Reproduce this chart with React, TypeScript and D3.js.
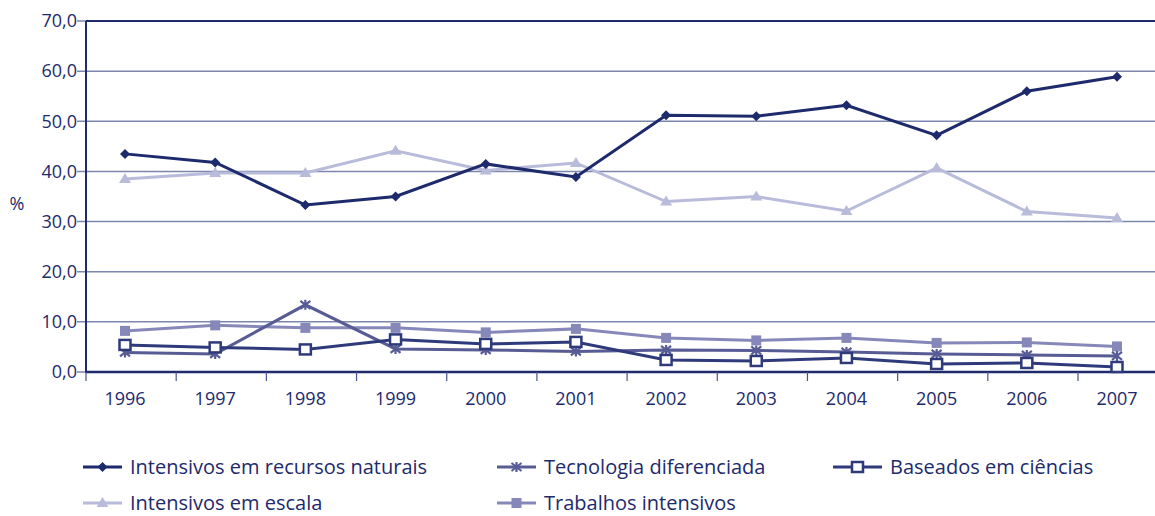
import React, { useEffect, useRef } from 'react';
import * as d3 from 'd3';

const years = ['1996', '1997', '1998', '1999', '2000', '2001', '2002', '2003', '2004', '2005', '2006', '2007'];
const yTicks = [0, 10, 20, 30, 40, 50, 60, 70];

const recursosNaturais = [43.5, 41.8, 33.3, 35.0, 41.5, 38.9, 51.2, 51.0, 53.2, 47.2, 56.0, 58.9];
const escala = [38.5, 39.7, 39.7, 44.1, 40.2, 41.7, 34.0, 35.0, 32.1, 40.7, 32.0, 30.7];
const tecnologia = [3.9, 3.6, 13.4, 4.6, 4.4, 4.1, 4.4, 4.3, 4.0, 3.6, 3.4, 3.2];
const ciencias = [5.4, 4.9, 4.5, 6.5, 5.6, 6.0, 2.4, 2.2, 2.8, 1.6, 1.8, 1.0];
const trabalhos = [8.2, 9.3, 8.8, 8.8, 7.9, 8.6, 6.8, 6.3, 6.8, 5.8, 5.9, 5.1];

const NAVY = '#1d2a6c';

type Series = { name: string; values: number[]; color: string; marker: string };

const series: Series[] = [
  { name: 'Intensivos em escala', values: escala, color: '#b8bcda', marker: 'triangle' },
  { name: 'Trabalhos intensivos', values: trabalhos, color: '#8688b9', marker: 'square' },
  { name: 'Tecnologia diferenciada', values: tecnologia, color: '#585c95', marker: 'cross' },
  { name: 'Baseados em ciências', values: ciencias, color: '#2f3a7b', marker: 'hollow' },
  { name: 'Intensivos em recursos naturais', values: recursosNaturais, color: NAVY, marker: 'diamond' },
];

const legendOrder = [
  { s: 4, col: 0, row: 0 },
  { s: 2, col: 1, row: 0 },
  { s: 3, col: 2, row: 0 },
  { s: 0, col: 0, row: 1 },
  { s: 1, col: 1, row: 1 },
];

const App: React.FC = () => {
  const svgRef = useRef<SVGSVGElement>(null);

  useEffect(() => {
    if (!svgRef.current) return;
    const width = 1155;
    const height = 516;
    const margin = { top: 21, left: 86, bottom: 144 };

    const svg = d3.select(svgRef.current);
    svg.selectAll('*').remove();

    const y = d3.scaleLinear().domain([0, 70]).range([height - margin.bottom, margin.top]);
    const x = d3.scalePoint<string>().domain(years).range([125, 1117]);
    const bandW = x.step();

    // gridlines
    svg.append('g')
      .selectAll('line')
      .data(yTicks.filter(t => t > 0 && t < 70))
      .enter().append('line')
      .attr('x1', margin.left - 9).attr('x2', width)
      .attr('y1', d => y(d)).attr('y2', d => y(d))
      .attr('stroke', '#7d87ad').attr('stroke-width', 1.5);

    // y tick marks for 0 and 70
    svg.append('g')
      .selectAll('line')
      .data([0, 70])
      .enter().append('line')
      .attr('x1', margin.left - 9).attr('x2', margin.left)
      .attr('y1', d => y(d)).attr('y2', d => y(d))
      .attr('stroke', '#7d87ad').attr('stroke-width', 1.5);

    // frame
    svg.append('line').attr('x1', margin.left).attr('x2', width)
      .attr('y1', y(70)).attr('y2', y(70)).attr('stroke', NAVY).attr('stroke-width', 2);
    svg.append('line').attr('x1', margin.left).attr('x2', width)
      .attr('y1', y(0)).attr('y2', y(0)).attr('stroke', NAVY).attr('stroke-width', 2.5);
    svg.append('line').attr('x1', margin.left).attr('x2', margin.left)
      .attr('y1', y(70)).attr('y2', y(0) + 1).attr('stroke', NAVY).attr('stroke-width', 2);

    // x ticks (band boundaries)
    svg.append('g')
      .selectAll('line')
      .data(years)
      .enter().append('line')
      .attr('x1', d => (x(d) as number) - 39).attr('x2', d => (x(d) as number) - 39)
      .attr('y1', y(0)).attr('y2', y(0) + 9)
      .attr('stroke', '#4a5590').attr('stroke-width', 1.2);
    svg.append('line')
      .attr('x1', (x('2007') as number) + bandW - 39).attr('x2', (x('2007') as number) + bandW - 39)
      .attr('y1', y(0)).attr('y2', y(0) + 9)
      .attr('stroke', '#4a5590').attr('stroke-width', 1.2);

    const font = '"Open Sans", "Noto Sans", sans-serif';

    // y labels
    svg.append('g')
      .selectAll('text')
      .data(yTicks)
      .enter().append('text')
      .attr('x', 77).attr('y', d => y(d))
      .attr('dy', '0.35em')
      .attr('text-anchor', 'end')
      .style('font-family', font).style('font-size', '18px').style('fill', NAVY)
      .text(d => d3.format('.1f')(d).replace('.', ','));

    svg.append('text')
      .attr('x', 17).attr('y', 204).attr('dy', '0.35em').attr('text-anchor', 'middle')
      .style('font-family', font).style('font-size', '18px').style('fill', NAVY)
      .text('%');

    // x labels
    svg.append('g')
      .selectAll('text')
      .data(years)
      .enter().append('text')
      .attr('x', d => x(d) as number).attr('y', y(0) + 33)
      .attr('text-anchor', 'middle')
      .style('font-family', font).style('font-size', '18px').style('fill', NAVY)
      .text(d => d);

    const drawMarker = (g: d3.Selection<SVGGElement, unknown, null, undefined>, type: string, color: string, cx: number, cy: number) => {
      if (type === 'diamond') {
        g.append('path').attr('d', `M${cx},${cy - 5}L${cx + 5},${cy}L${cx},${cy + 5}L${cx - 5},${cy}Z`).attr('fill', color);
      } else if (type === 'triangle') {
        g.append('path').attr('d', `M${cx},${cy - 6}L${cx + 6},${cy + 4}L${cx - 6},${cy + 4}Z`).attr('fill', color);
      } else if (type === 'square') {
        g.append('rect').attr('x', cx - 5).attr('y', cy - 5).attr('width', 10).attr('height', 10).attr('fill', color);
      } else if (type === 'hollow') {
        g.append('rect').attr('x', cx - 5.5).attr('y', cy - 5).attr('width', 11).attr('height', 10)
          .attr('fill', 'white').attr('stroke', color).attr('stroke-width', 2.5);
      } else if (type === 'cross') {
        g.append('path').attr('d', `M${cx - 5},${cy - 4}L${cx + 5},${cy + 4}M${cx - 5},${cy + 4}L${cx + 5},${cy - 4}M${cx},${cy - 5}L${cx},${cy + 5}`)
          .attr('stroke', color).attr('stroke-width', 2.2).attr('fill', 'none');
      }
    };

    const line = d3.line<number>()
      .x((_, i) => x(years[i]) as number)
      .y(d => y(d));

    series.forEach(s => {
      const g = svg.append('g');
      g.append('path')
        .attr('d', line(s.values) as string)
        .attr('fill', 'none')
        .attr('stroke', s.color)
        .attr('stroke-width', 3);
      s.values.forEach((v, i) => drawMarker(g, s.marker, s.color, x(years[i]) as number, y(v)));
    });

    // legend
    const colX = [83, 497, 833];
    const colW = [39, 39, 49];
    const rowY = [467, 503];
    legendOrder.forEach(item => {
      const s = series[item.s];
      const lx = colX[item.col];
      const ly = rowY[item.row];
      const g = svg.append('g');
      g.append('line').attr('x1', lx).attr('x2', lx + colW[item.col])
        .attr('y1', ly).attr('y2', ly).attr('stroke', s.color).attr('stroke-width', 3);
      drawMarker(g, s.marker, s.color, lx + colW[item.col] / 2, ly);
      g.append('text')
        .attr('x', lx + colW[item.col] + 8).attr('y', ly).attr('dy', '0.35em')
        .style('font-family', font).style('font-size', '20px').style('fill', NAVY)
        .text(s.name);
    });
  }, []);

  return (
    <svg ref={svgRef} width={1155} height={516} viewBox="0 0 1155 516"
      style={{ position: 'absolute', left: 0, top: 0, background: 'white' }} />
  );
};

export default App;
